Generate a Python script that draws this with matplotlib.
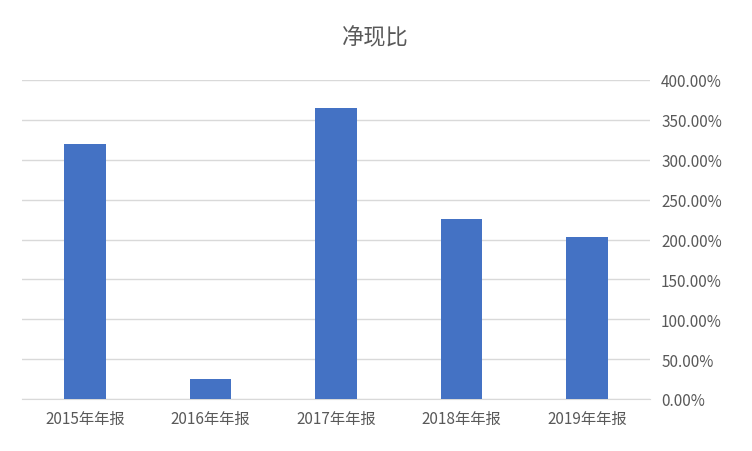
import matplotlib
matplotlib.use("Agg")
import matplotlib.pyplot as plt
from matplotlib.ticker import FuncFormatter

plt.rcParams['font.family'] = ['Noto Sans CJK SC', 'DejaVu Sans']

categories = ["2015年年报", "2016年年报", "2017年年报", "2018年年报", "2019年年报"]
values = [3.20, 0.25, 3.65, 2.26, 2.03]

fig = plt.figure(figsize=(7.52, 4.52), dpi=100)
ax = fig.add_axes([22/752, 1-400/452, 628/752, 319/452])
ax.bar(range(len(categories)), values, width=0.33, color="#4472C4", zorder=3)
ax.set_xlim(-0.5, len(categories)-0.5)
ax.set_ylim(0, 4)
ax.set_yticks([i*0.5 for i in range(9)])
ax.yaxis.set_major_formatter(FuncFormatter(lambda v, p: f"{v*100:.2f}%"))
ax.yaxis.tick_right()
ax.set_xticks(range(len(categories)))
ax.set_xticklabels(categories)
ax.grid(axis='y', color="#D9D9D9", linewidth=1, zorder=0)
for s in ['top', 'left', 'right']:
    ax.spines[s].set_visible(False)
ax.spines['bottom'].set_color("#D9D9D9")
ax.tick_params(length=0, labelsize=11, colors="#595959")
ax.tick_params(axis='y', pad=8)
ax.tick_params(axis='x', pad=8)
fig.text(375/752, 1-38/452, "净现比", ha='center', va='center', fontsize=16, color="#595959")
fig.savefig("out.png", dpi=100)
